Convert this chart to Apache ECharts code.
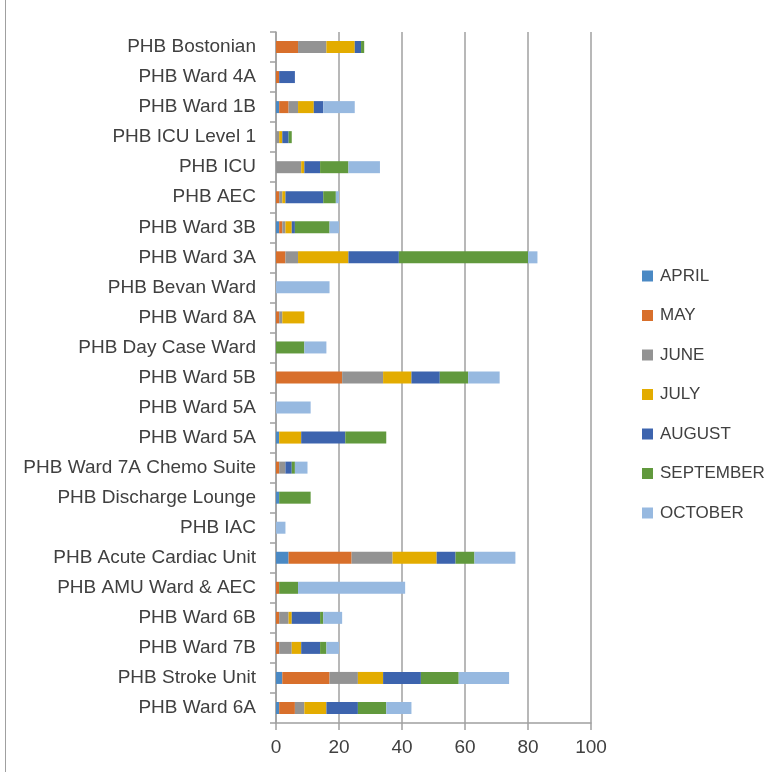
<!DOCTYPE html>
<html>
<head>
<meta charset="utf-8">
<script src="https://cdn.jsdelivr.net/npm/echarts@6/dist/echarts.min.js"></script>
<style>
html,body{margin:0;padding:0;background:#fff;}
#chart{width:779px;height:772px;}
</style>
</head>
<body>
<div id="chart"></div>
<script>
const categories = [
  "PHB Bostonian","PHB Ward 4A","PHB Ward 1B","PHB ICU Level 1","PHB ICU","PHB AEC",
  "PHB Ward 3B","PHB Ward 3A","PHB Bevan Ward","PHB Ward 8A","PHB Day Case Ward",
  "PHB Ward 5B","PHB Ward 5A","PHB Ward 5A","PHB Ward 7A Chemo Suite",
  "PHB Discharge Lounge","PHB IAC","PHB Acute Cardiac Unit","PHB AMU Ward & AEC",
  "PHB Ward 6B","PHB Ward 7B","PHB Stroke Unit","PHB Ward 6A"
];
const seriesNames = ["APRIL","MAY","JUNE","JULY","AUGUST","SEPTEMBER","OCTOBER"];
const april     = [0,0,1,0,0,0,1,0,0,0,0,0,0,1,0,1,0,4,0,0,0,2,1];
const may       = [7,1,3,0,0,1,1,3,0,1,0,21,0,0,1,0,0,20,1,1,1,15,5];
const june      = [9,0,3,1,8,1,1,4,0,1,0,13,0,0,2,0,0,13,0,3,4,9,3];
const july      = [9,0,5,1,1,1,2,16,0,7,0,9,0,7,0,0,0,14,0,1,3,8,7];
const august    = [2,5,3,2,5,12,1,16,0,0,0,9,0,14,2,0,0,6,0,9,6,12,10];
const september = [1,0,0,1,9,4,11,41,0,0,9,9,0,13,1,10,0,6,6,1,2,12,9];
const october   = [0,0,10,0,10,1,3,3,17,0,7,10,11,0,4,0,3,13,34,6,4,16,8];
const xTicks = [0,20,40,60,80,100];

const seriesData = [april, may, june, july, august, september, october];
const colors = ['#4A89C4','#D86F2B','#939393','#E3AC00','#3D64AE','#61993D','#97B9E0'];
const fontFamily = '"Liberation Sans", Arial, sans-serif';

const chart = echarts.init(document.getElementById('chart'));
chart.setOption({
  animation: false,
  color: colors,
  grid: {left: 276, right: 188, top: 32, bottom: 49, containLabel: false},
  legend: {
    orient: 'vertical',
    left: 642,
    top: 266,
    padding: 0,
    itemWidth: 11,
    itemHeight: 11,
    itemGap: 19.5,
    icon: 'rect',
    data: seriesNames,
    textStyle: {fontFamily: fontFamily, fontSize: 17, lineHeight: 20, color: '#404040', padding: [0,0,0,2]}
  },
  xAxis: {
    type: 'value',
    min: xTicks[0],
    max: xTicks[xTicks.length - 1],
    interval: 20,
    axisLine: {show: true, lineStyle: {color: '#A0A0A0', width: 1.5}},
    axisTick: {show: true, length: 7, lineStyle: {color: '#A0A0A0', width: 1.5}},
    splitLine: {show: true, lineStyle: {color: '#A0A0A0', width: 1.5}},
    axisLabel: {fontFamily: fontFamily, fontSize: 19, color: '#404040', margin: 15}
  },
  yAxis: {
    type: 'category',
    inverse: true,
    data: categories,
    axisLine: {show: true, lineStyle: {color: '#A0A0A0', width: 1.5}},
    axisTick: {show: true, length: 6, lineStyle: {color: '#A0A0A0', width: 1.5}},
    axisLabel: {fontFamily: fontFamily, fontSize: 19, color: '#404040', margin: 20, interval: 0}
  },
  series: seriesNames.map((name, i) => ({
    name: name,
    type: 'bar',
    stack: 'total',
    barWidth: 12,
    data: seriesData[i],
    itemStyle: {color: colors[i]}
  })),
  graphic: [{
    type: 'line',
    shape: {x1: 5.5, y1: 0, x2: 5.5, y2: 772},
    style: {stroke: '#A0A0A0', lineWidth: 1}
  }]
});
</script>
</body>
</html>
